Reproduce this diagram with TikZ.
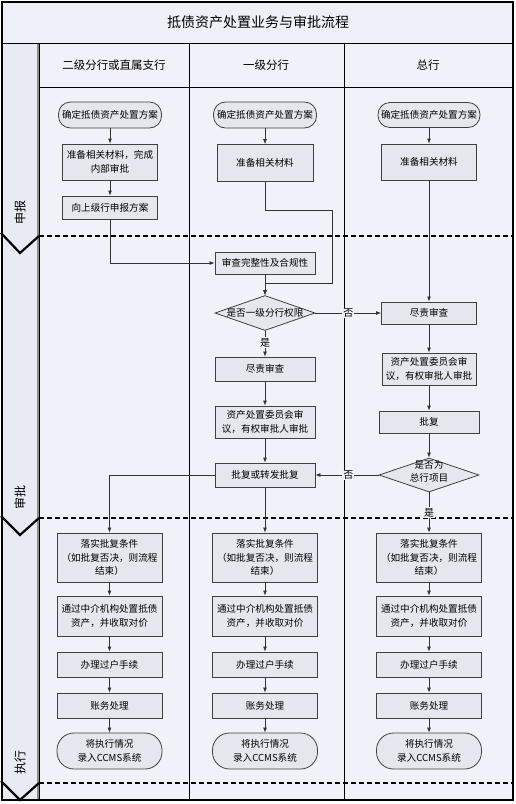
\documentclass[tikz,border=0pt]{standalone}
\usepackage{fontspec}
\newfontfamily\cjk{Noto Sans CJK SC}
\usetikzlibrary{arrows.meta,shapes.geometric}
\definecolor{bg}{HTML}{F1F1F9}
\definecolor{boxc}{HTML}{E5E7EE}
\definecolor{lanec}{HTML}{E8EBF3}
\definecolor{titlec}{HTML}{EEF0F8}
\begin{document}
\begin{tikzpicture}[x=1pt,y=-1pt,
  every node/.style={font=\cjk\fontsize{9.6}{13.5}\selectfont},
  box/.style={draw=black!75, fill=boxc, line width=0.8pt, align=center, inner sep=1pt},
  pill/.style={box, rounded corners=12pt},
  pillb/.style={box, rounded corners=17pt},
  dia/.style={diamond, draw=black!75, fill=boxc, line width=0.8pt, inner sep=0pt, minimum width=100pt, minimum height=35pt},
  arr/.style={draw=black!80, line width=0.8pt, -{Latex[length=5pt,width=4pt]}},
  ln/.style={draw=black!80, line width=0.8pt},
  yn/.style={fill=bg, inner sep=1pt, font=\cjk\fontsize{10}{12}\selectfont},
  phase/.style={draw=black, line width=2.4pt, dash pattern=on 5pt off 3pt},
  chev/.style={draw=black, line width=2.2pt},
  hdr/.style={font=\cjk\fontsize{11.5}{14}\selectfont},
  lanelbl/.style={rotate=90, font=\cjk\fontsize{12}{14}\selectfont}
]
\useasboundingbox (0,0) rectangle (516,804);
\fill[white] (0,0) rectangle (516,804);
% frame and background
\fill[bg] (2,2) rectangle (513,800);
\fill[titlec] (2,2) rectangle (513,43);
\fill[lanec] (2,43) rectangle (38,800);
\draw[black!45, line width=2pt] (38,43) -- (38,800);
\draw[black, line width=0.8pt] (39,43) -- (39,800);
\draw[black, line width=0.9pt] (2,43) -- (513,43);
\draw[black, line width=0.9pt] (39,87) -- (513,87);
\draw[black, line width=0.8pt] (189,43) -- (189,800);
\draw[black, line width=0.8pt] (344,43) -- (344,800);
\draw[black, line width=1.2pt] (2,2) rectangle (513,800);

% title and headers
\node[font=\cjk\fontsize{14}{16}\selectfont] (title) at (258,22) {抵债资产处置业务与审批流程};
\node[hdr] (h1) at (114,65) {二级分行或直属支行};
\node[hdr] (h2) at (266,65) {一级分行};
\node[hdr] (h3) at (428,65) {总行};

% phases
\draw[phase] (39,236) -- (513,236);
\draw[phase] (39,518) -- (513,518);
\draw[phase] (39,783) -- (513,783);
\draw[chev] (1,233) -- (20,253) -- (39,236);
\draw[chev] (1,516) -- (20,535) -- (39,518);
\draw[chev] (1,781) -- (20,800) -- (39,783);
\node[lanelbl] (p1) at (20,212) {申报};
\node[lanelbl] (p2) at (20,497) {审批};
\node[lanelbl] (p3) at (20,762) {执行};

% column 1 (declaration)
\node[pill, minimum width=103pt, minimum height=26pt] (c1r1) at (110,115) {确定抵债资产处置方案};
\node[box, minimum width=95pt, minimum height=36pt] (c1b1) at (110,162) {准备相关材料，完成\\内部审批};
\node[box, minimum width=95pt, minimum height=23pt] (c1b2) at (110,207.5) {向上级行申报方案};

% column 2
\node[pill, minimum width=103pt, minimum height=26pt] (c2r1) at (265,115) {确定抵债资产处置方案};
\node[box, minimum width=96pt, minimum height=37pt] (c2b1) at (265,163) {准备相关材料};
\node[box, minimum width=100pt, minimum height=22pt] (c2chk) at (265,263) {审查完整性及合规性};
\node[dia] (d1) at (265,313) {\makebox[0pt]{是否一级分行权限}};
\node[box, minimum width=100pt, minimum height=24pt] (c2due) at (265,369) {尽责审查};
\node[box, minimum width=100pt, minimum height=32pt] (c2com) at (265,422) {资产处置委员会审\\议，有权审批人审批};
\node[box, minimum width=100pt, minimum height=24pt] (c2rep) at (265,475) {批复或转发批复};

% column 3
\node[pill, minimum width=102pt, minimum height=25pt] (c3r1) at (429,115) {确定抵债资产处置方案};
\node[box, minimum width=95pt, minimum height=36pt] (c3b1) at (429,162) {准备相关材料};
\node[box, minimum width=95pt, minimum height=22pt] (c3due) at (429,313) {尽责审查};
\node[box, minimum width=94pt, minimum height=32pt] (c3com) at (429,369) {资产处置委员会审\\议，有权审批人审批};
\node[box, minimum width=100pt, minimum height=22pt] (c3rep) at (429,422) {批复};
\node[dia, minimum height=34pt] (d2) at (429,475) {\makebox[0pt]{\smash{\begin{tabular}{@{}c@{}}是否为\\总行项目\end{tabular}}}};

% execution boxes
\foreach \c/\x in {1/109.5, 2/265, 3/429}{
  \node[box, minimum width=105pt, minimum height=49pt] (e\c a) at (\x,557.5) {落实批复条件\\（如批复否决，则流程\\结束）};
  \node[box, minimum width=105pt, minimum height=40pt] (e\c b) at (\x,616) {通过中介机构处置抵债\\资产，并收取对价};
  \node[box, minimum width=105pt, minimum height=25pt] (e\c c) at (\x,664.5) {办理过户手续};
  \node[box, minimum width=105pt, minimum height=25pt] (e\c d) at (\x,705.5) {账务处理};
  \node[pillb, minimum width=105pt, minimum height=36pt] (e\c e) at (\x,751) {将执行情况\\录入CCMS系统};
  \draw[arr] (e\c a) -- (e\c b);
  \draw[arr] (e\c b) -- (e\c c);
  \draw[arr] (e\c c) -- (e\c d);
  \draw[arr] (e\c d) -- (e\c e);
}

% connectors column 1
\draw[arr] (c1r1) -- (c1b1);
\draw[arr] (c1b1) -- (c1b2);
\draw[arr] (c1b2.south) |- (c2chk.west);

% connectors column 2
\coordinate (j1) at (332,210);
\coordinate (j2) at (332,283);
\draw[arr] (c2r1) -- (c2b1);
\draw[arr] (c2b1.south) |- (j1) -- (j2) -| (d1.north);
\draw[arr] (c2chk) -- (d1.north);
\draw[arr] (d1.south) -- (c2due.north) node[yn, pos=0.45] (y1) {是};
\draw[arr] (d1.east) -- (c3due.west) node[yn, pos=0.5] (n1) {否};
\draw[arr] (c2due) -- (c2com);
\draw[arr] (c2com) -- (c2rep);
\draw[arr] (c2rep.west) -| (e1a.north);
\draw[arr] (c2rep) -- (e2a);

% connectors column 3
\draw[arr] (c3r1) -- (c3b1);
\draw[arr] (c3b1) -- (c3due);
\draw[arr] (c3due) -- (c3com);
\draw[arr] (c3com) -- (c3rep);
\draw[arr] (c3rep) -- (d2.north);
\draw[arr] (d2.west) -- (c2rep.east) node[yn, pos=0.48] (n2) {否};
\draw[arr] (d2.south) -- (e3a.north) node[yn, pos=0.5] (y2) {是};
\end{tikzpicture}
\end{document}
